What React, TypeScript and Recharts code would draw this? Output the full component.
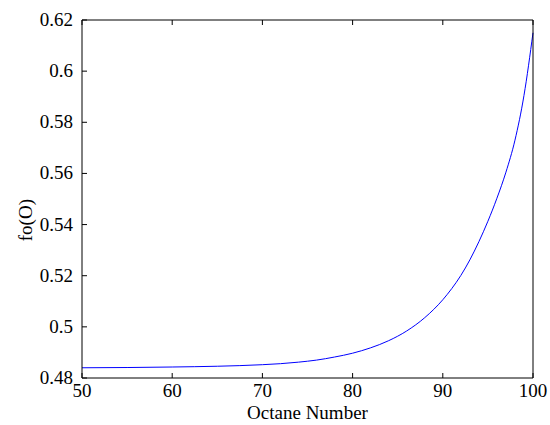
import { LineChart, Line, XAxis, YAxis } from 'recharts';

const octane = [50, 55, 60, 65, 70, 72, 74, 76, 78, 80, 82, 84, 86, 88, 90, 91, 92, 93, 94, 95, 96, 97, 98, 99, 100];
const foValues = [0.4840, 0.4841, 0.4843, 0.4846, 0.4852, 0.4856, 0.4862, 0.4870, 0.4882, 0.4897, 0.4918, 0.4946, 0.4984, 0.5036, 0.5106, 0.5150, 0.5201, 0.5262, 0.5333, 0.5413, 0.5503, 0.5605, 0.5730, 0.5905, 0.6150];
const xTicks = [50, 60, 70, 80, 90, 100];
const yTicks = [0.48, 0.5, 0.52, 0.54, 0.56, 0.58, 0.6, 0.62];

const data = octane.map((o, i) => ({ o, v: foValues[i] }));
const font = '"Liberation Serif", serif';

const XTick = (p: any) => (
  <g>
    <line x1={p.x} x2={p.x} y1={p.y} y2={p.y - 5} stroke="#000" />
    <text x={p.x} y={p.y + 19} textAnchor="middle" fontSize={19} fontFamily={font} fill="#000">{p.payload.value}</text>
  </g>
);
const YTick = (p: any) => (
  <g>
    <line x1={p.x} x2={p.x + 5} y1={p.y} y2={p.y} stroke="#000" />
    <text x={p.x - 9} y={p.y + 6} textAnchor="end" fontSize={19} fontFamily={font} fill="#000">{String(p.payload.value)}</text>
  </g>
);
const XTopTick = (p: any) => <line x1={p.x} x2={p.x} y1={p.y} y2={p.y + 5} stroke="#000" />;
const YRightTick = (p: any) => <line x1={p.x} x2={p.x - 5} y1={p.y} y2={p.y} stroke="#000" />;

export default function App() {
  return (
    <div style={{ position: 'absolute', left: 0, top: 0, background: '#fff' }}>
      <LineChart width={550} height={425} data={data} margin={{ top: 19, right: 16, left: 81, bottom: 46 }}>
        <XAxis xAxisId="b" dataKey="o" type="number" domain={[50, 100]} ticks={xTicks} tickSize={0} tickMargin={0} tick={<XTick />} stroke="#000" height={1}
          label={{ value: 'Octane Number', position: 'bottom', offset: 27, fontSize: 19, fontFamily: font, fill: '#000' }} />
        <XAxis xAxisId="t" orientation="top" dataKey="o" type="number" domain={[50, 100]} ticks={xTicks} tickSize={0} tickMargin={0} tick={<XTopTick />} stroke="#000" height={1} />
        <YAxis yAxisId="l" type="number" domain={[0.48, 0.62]} ticks={yTicks} tickSize={0} tickMargin={0} tick={<YTick />} stroke="#000" width={1}
          label={{ value: 'fo(O)', angle: -90, position: 'left', offset: 56, fontSize: 19, fontFamily: font, fill: '#000' }} />
        <YAxis yAxisId="r" orientation="right" type="number" domain={[0.48, 0.62]} ticks={yTicks} tickSize={0} tickMargin={0} tick={<YRightTick />} stroke="#000" width={1} />
        <Line xAxisId="b" yAxisId="l" type="monotone" dataKey="v" stroke="#0000ff" strokeWidth={1} dot={false} isAnimationActive={false} />
      </LineChart>
    </div>
  );
}
